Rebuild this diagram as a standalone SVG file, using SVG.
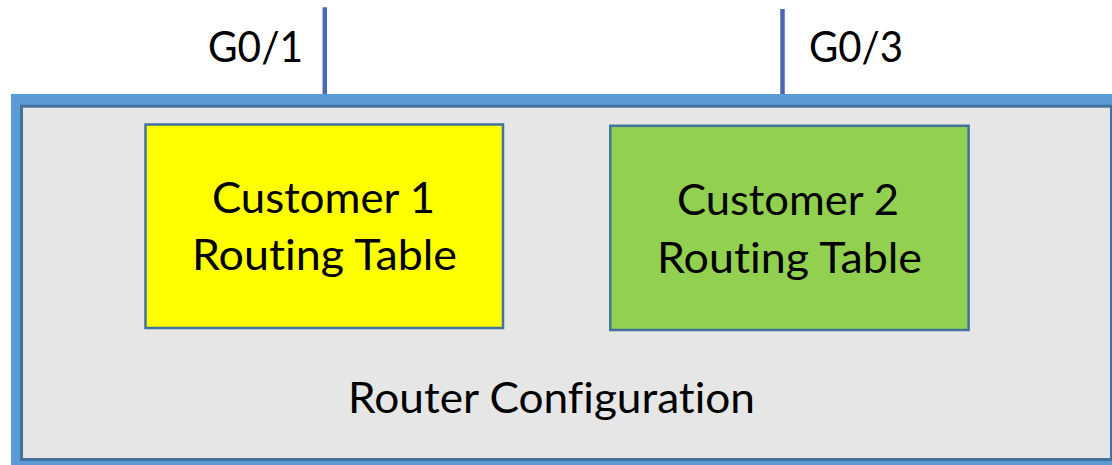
<svg xmlns="http://www.w3.org/2000/svg" width="1112" height="465" viewBox="0 0 1112 465">
  <style>
    .t { font-family: Lato, "Open Sans", "Liberation Sans", sans-serif; font-size: 42px; fill: #000000; text-anchor: middle; font-variant-ligatures: none; font-feature-settings: "liga" 0, "clig" 0; }
    .box { stroke: #41719c; stroke-width: 2.5; }
    .port { stroke: #4a67b0; stroke-width: 4.5; fill: none; }
  </style>
  <rect width="1112" height="465" fill="#ffffff"/>
  <g id="router">
    <rect x="11" y="94" width="1120" height="390" fill="#5b9bd5"/>
    <rect x="21.5" y="106.2" width="1090" height="353.3" fill="#e6e6e6" stroke="#41719c" stroke-width="3"/>
    <text class="t" x="551.5" y="413" textLength="407" lengthAdjust="spacingAndGlyphs">Router Configuration</text>
  </g>
  <g id="connectors">
    <line class="port" x1="324.8" y1="7.3" x2="324.8" y2="94"/>
    <line class="port" x1="782.5" y1="9" x2="782.5" y2="94"/>
  </g>
  <g id="label-g01">
    <text class="t" x="255.5" y="62" textLength="95" lengthAdjust="spacingAndGlyphs">G0/1</text>
  </g>
  <g id="label-g03">
    <text class="t" x="856" y="62" textLength="94" lengthAdjust="spacingAndGlyphs">G0/3</text>
  </g>
  <g id="customer1">
    <rect class="box" x="145.5" y="124.5" width="357.5" height="203.5" fill="#ffff00"/>
    <text class="t" x="323.5" y="213" textLength="223" lengthAdjust="spacingAndGlyphs">Customer 1</text>
    <text class="t" x="324.5" y="270" textLength="265" lengthAdjust="spacingAndGlyphs">Routing Table</text>
  </g>
  <g id="customer2">
    <rect class="box" x="610.3" y="125.8" width="358.3" height="204.2" fill="#92d050"/>
    <text class="t" x="788" y="215" textLength="222" lengthAdjust="spacingAndGlyphs">Customer 2</text>
    <text class="t" x="789.5" y="273" textLength="265" lengthAdjust="spacingAndGlyphs">Routing Table</text>
  </g>
</svg>
